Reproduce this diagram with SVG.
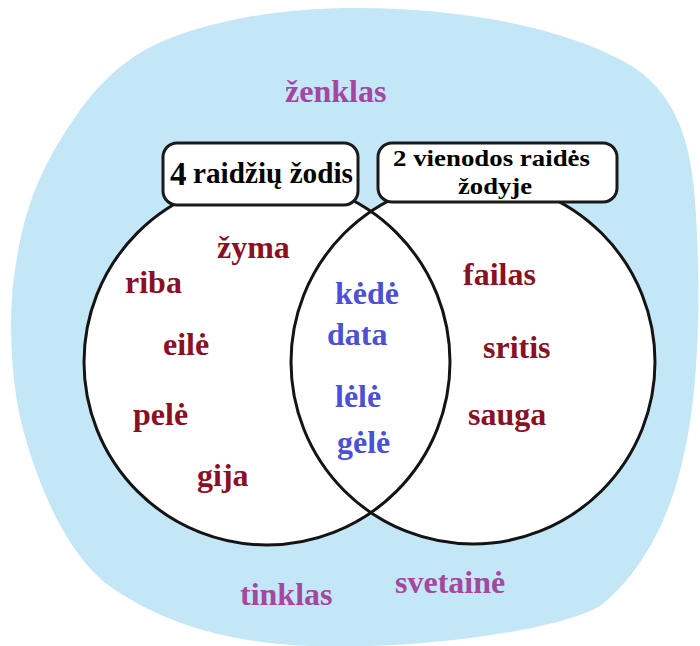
<svg xmlns="http://www.w3.org/2000/svg" width="700" height="646" viewBox="0 0 700 646">
  <style>
    .ring { fill: none; stroke: #141414; stroke-width: 3; }
    .disc { fill: #ffffff; stroke: none; }
    .box { fill: #ffffff; stroke: #1a1a1a; stroke-width: 3; }
    .w { font-family: "Liberation Serif", "Times New Roman", serif; font-weight: bold; font-size: 32px; }
    .red { fill: #8a1024; }
    .blue { fill: #4b50d4; }
    .purple { fill: #a6479f; }
    .head { font-family: "Liberation Serif", "Times New Roman", serif; font-weight: bold; fill: #000000; }
  </style>

  <!-- universe backdrop -->
  <g id="universe">
    <path fill="#c4e7f8" d="M 357 8 C 470 8, 570 30, 630 65 C 670 90, 690 130, 695 200 C 702 300, 698 400, 683 458 C 670 520, 640 575, 600 606 C 560 630, 420 650, 312 646 C 225 643, 160 622, 108 585 C 65 552, 35 480, 20 417 C 8 360, 10 300, 15 270 C 25 200, 45 160, 80 110 C 110 70, 140 45, 200 28 C 250 14, 300 8, 357 8 Z"/>
    <text class="w purple" x="285" y="102">ženklas</text>
    <text class="w purple" x="240" y="605">tinklas</text>
    <text class="w purple" x="395" y="593">svetainė</text>
  </g>

  <!-- the two sets -->
  <g id="sets">
    <circle class="disc" cx="267" cy="362" r="183"/>
    <circle class="disc" cx="473" cy="362" r="182"/>
    <circle class="ring" cx="267" cy="362" r="183"/>
    <circle class="ring" cx="473" cy="362" r="182"/>
  </g>

  <g id="set-four-letters">
    <rect class="box" x="163" y="143" width="195" height="62" rx="14"/>
    <text class="head" x="170" y="185" font-size="33">4</text>
    <text class="head" x="193" y="183" font-size="29" textLength="160" lengthAdjust="spacingAndGlyphs">raidžių žodis</text>
    <text class="w red" x="217" y="258">žyma</text>
    <text class="w red" x="125" y="293">riba</text>
    <text class="w red" x="163" y="355">eilė</text>
    <text class="w red" x="133" y="425">pelė</text>
    <text class="w red" x="197" y="486">gija</text>
  </g>

  <g id="set-double-letter">
    <rect class="box" x="378" y="143" width="239" height="59" rx="14"/>
    <text class="head" x="393" y="166" font-size="23" textLength="197" lengthAdjust="spacingAndGlyphs">2 vienodos raidės</text>
    <text class="head" x="458" y="194" font-size="23" textLength="74" lengthAdjust="spacingAndGlyphs">žodyje</text>
    <text class="w red" x="463" y="285">failas</text>
    <text class="w red" x="483" y="358">sritis</text>
    <text class="w red" x="468" y="425">sauga</text>
  </g>

  <g id="set-both">
    <text class="w blue" x="335" y="304">kėdė</text>
    <text class="w blue" x="327" y="345">data</text>
    <text class="w blue" x="335" y="407">lėlė</text>
    <text class="w blue" x="337" y="453">gėlė</text>
  </g>

  <g id="connectors"/>
</svg>
